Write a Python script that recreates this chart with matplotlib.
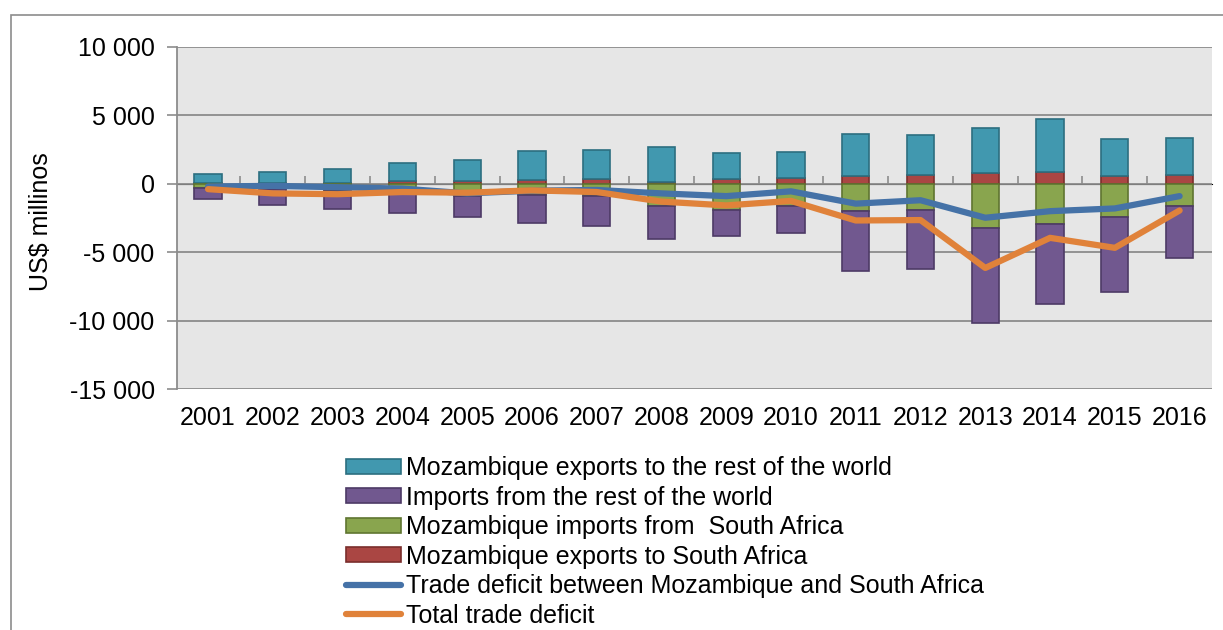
import numpy as np
import matplotlib.pyplot as plt
from matplotlib.patches import Rectangle
from matplotlib.ticker import FuncFormatter

plt.rcParams['font.family'] = ['Liberation Sans', 'DejaVu Sans']

# ── data (US$ millions) ───────────────────────────────────────────────────────
years = ['2001', '2002', '2003', '2004', '2005', '2006', '2007', '2008',
         '2009', '2010', '2011', '2012', '2013', '2014', '2015', '2016']

exports_sa = [50, 60, 80, 170, 170, 250, 340, 150,
              340, 460, 540, 610, 780, 880, 540, 610]
exports_row = [680, 770, 990, 1340, 1580, 2160, 2150, 2530,
               1900, 1850, 3110, 2950, 3290, 3890, 2720, 2720]
imports_sa = [300, 400, 500, 600, 900, 800, 900, 1600,
              1900, 1650, 2020, 1900, 3250, 2920, 2390, 1590]
imports_row = [820, 1160, 1340, 1500, 1560, 2080, 2170, 2450,
               1880, 1950, 4320, 4350, 6900, 5880, 5530, 3800]
deficit_sa = [-200, -150, -250, -350, -700, -500, -450, -700,
              -900, -550, -1450, -1200, -2480, -2000, -1800, -900]
deficit_total = [-390, -700, -760, -600, -650, -480, -600, -1300,
                 -1580, -1250, -2680, -2650, -6150, -3950, -4680, -1950]

labels = ['Mozambique exports to the rest of the world',
          'Imports from the rest of the world',
          'Mozambique imports from  South Africa',
          'Mozambique exports to South Africa',
          'Trade deficit between Mozambique and South Africa',
          'Total trade deficit']

FS = 18

# ── plot ──────────────────────────────────────────────────────────────────────
fig = plt.figure(figsize=(12.23, 6.30), dpi=100)
ax = fig.add_axes([0.1447, 0.3825, 0.8463, 0.5429])
ax.set_facecolor('#e6e6e6')

# outer chart frame
fig.patches.append(Rectangle((11 / 1223, -0.5), 2, 0.5 + 1 - 15 / 630,
                             transform=fig.transFigure, fill=False,
                             edgecolor='#8c8c8c', lw=1.2))

x = np.arange(len(years))
w = 0.42
exp_sa = np.array(exports_sa)
imp_sa = -np.array(imports_sa)

b_red = ax.bar(x, exp_sa, w, color='#aa4643', edgecolor='#7a2e2c', lw=1.2, zorder=3)
b_teal = ax.bar(x, exports_row, w, bottom=exp_sa, color='#4198af',
                edgecolor='#2c6f80', lw=1.2, zorder=3)
b_green = ax.bar(x, imp_sa, w, color='#89a54e', edgecolor='#5f7530', lw=1.2, zorder=3)
b_purple = ax.bar(x, -np.array(imports_row), w, bottom=imp_sa, color='#71588f',
                  edgecolor='#4d3a66', lw=1.2, zorder=3)

l_blue, = ax.plot(x, deficit_sa, color='#4572a7', lw=4.5,
                  solid_capstyle='round', solid_joinstyle='round', zorder=4)
l_orange, = ax.plot(x, deficit_total, color='#e0823a', lw=4.5,
                    solid_capstyle='round', solid_joinstyle='round', zorder=5)

ax.set_ylim(-15000, 10000)
ax.set_xlim(-0.48, 15.5)
ax.set_yticks(np.arange(-15000, 10001, 5000))
ax.yaxis.set_major_formatter(FuncFormatter(lambda v, p: f'{v:,.0f}'.replace(',', ' ')))
ax.yaxis.grid(True, color='#8c8c8c', lw=1.3, zorder=1)
ax.set_axisbelow(True)
ax.tick_params(axis='y', length=7, color='#8c8c8c', width=1.2, labelsize=FS, pad=9)
ax.set_xticks(x, years)
ax.tick_params(axis='x', length=0, labelsize=FS, pad=12)
for s in ['top', 'right', 'bottom']:
    ax.spines[s].set_visible(False)
ax.spines['left'].set_color('#8c8c8c')
ax.spines['left'].set_linewidth(1.3)

# category separators on the zero line
sec = ax.secondary_xaxis(0.6)
sec.set_xticks(np.arange(0.5, 15.5, 1))
sec.tick_params(length=6, color='#8c8c8c', width=1.2, labelbottom=False,
                labeltop=False, direction='out')
sec.spines['bottom'].set_color('#8c8c8c')
sec.spines['bottom'].set_linewidth(1.3)

ax.set_ylabel('US$ millinos', fontsize=FS)
ax.yaxis.set_label_coords(-0.12, 0.49)

fig.legend([b_teal, b_purple, b_green, b_red, l_blue, l_orange], labels,
           loc='upper left', bbox_to_anchor=(0.2723, 0.296), frameon=False,
           fontsize=FS, handlelength=2.2, handleheight=0.56, handletextpad=0.2,
           labelspacing=0.22, borderpad=0)

fig.savefig('out.png', dpi=100)
